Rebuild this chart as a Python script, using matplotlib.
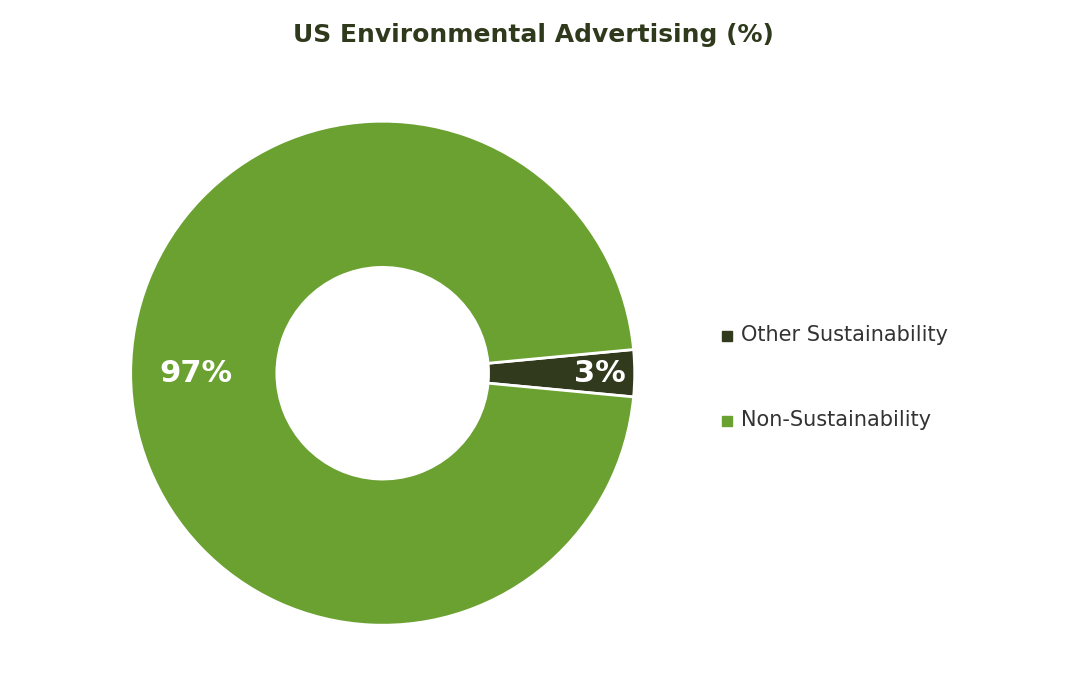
import numpy as np
import matplotlib.pyplot as plt

labels = ["Other Sustainability", "Non-Sustainability"]
values = [3, 97]
colors = ["#323a1e", "#6ba131"]
title = "US Environmental Advertising (%)"

fig = plt.figure(figsize=(10.66, 6.95), dpi=100)
ax = fig.add_axes([0.359 - 0.2365, 0.463 - 0.3626, 0.473, 0.7252])

start = -values[0] / sum(values) * 360 / 2
wedges, _ = ax.pie(values, colors=colors, startangle=start, counterclock=True,
                   wedgeprops=dict(width=0.58, edgecolor="white", linewidth=2))
ax.set_aspect("equal")
ax.set_xlim(-1.0, 1.0)
ax.set_ylim(-1.0, 1.0)

# label positions along each wedge's mid-angle
label_r = [0.86, 0.74]
angles = np.cumsum([0] + values)
for i, v in enumerate(values):
    mid = np.deg2rad(start + (angles[i] + angles[i + 1]) / 2 / sum(values) * 360)
    ax.text(label_r[i] * np.cos(mid), label_r[i] * np.sin(mid), f"{v}%",
            ha="center", va="center", color="white", fontsize=22, fontweight="bold")

fig.text(0.5, 0.95, title, ha="center", va="center", fontsize=18,
         fontweight="bold", color="#2f3a1c")

for y, lab, c in zip([0.518, 0.396], labels, colors):
    fig.patches.append(plt.Rectangle((0.677, y - 0.009), 0.0095, 0.0145,
                                     color=c, transform=fig.transFigure))
    fig.text(0.695, y, lab, ha="left", va="center", fontsize=15, color="#333333")

fig.savefig("out.png", dpi=100, facecolor="white")
